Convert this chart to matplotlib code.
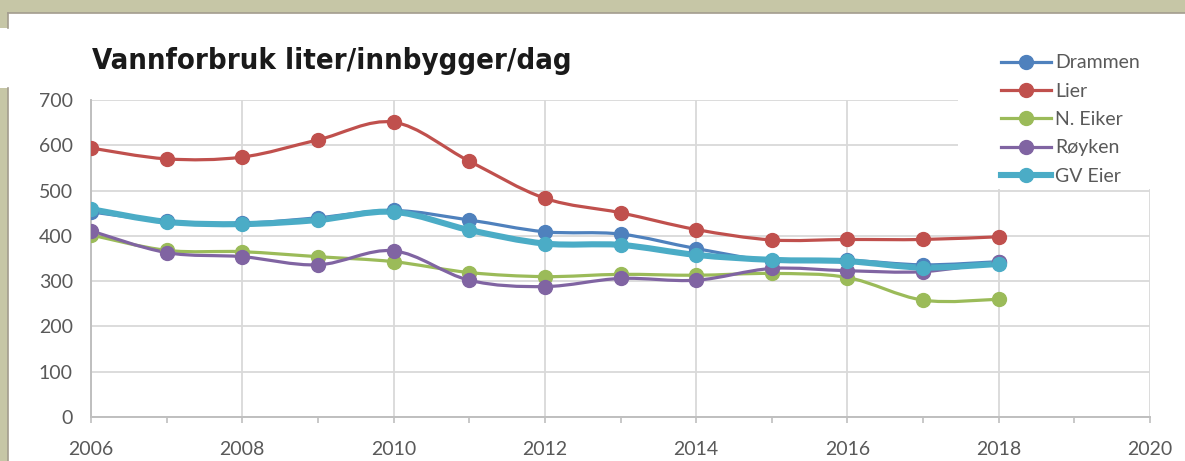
import matplotlib
matplotlib.use("Agg")
import matplotlib.pyplot as plt
from matplotlib.path import Path
from matplotlib.patches import PathPatch, Rectangle
from matplotlib.lines import Line2D
import numpy as np

years = [2006, 2007, 2008, 2009, 2010, 2011, 2012, 2013, 2014, 2015, 2016, 2017, 2018]

drammen = [453, 432, 428, 440, 456, 435, 409, 404, 372, 345, 346, 336, 343]
lier = [594, 570, 574, 612, 651, 565, 483, 451, 414, 391, 392, 392, 398]
n_eiker = [402, 368, 365, 354, 343, 319, 310, 315, 313, 317, 308, 258, 260]
royken = [411, 363, 354, 336, 367, 302, 288, 306, 302, 328, 323, 321, 343]
gv_eier = [459, 431, 426, 435, 453, 413, 383, 380, 358, 347, 344, 330, 338]

names = ["Drammen", "Lier", "N. Eiker", "Røyken", "GV Eier"]
series = [drammen, lier, n_eiker, royken, gv_eier]
colors = ["#4F81BD", "#C0504D", "#9BBB59", "#8064A2", "#4BACC6"]
widths = [2.3, 2.3, 2.3, 2.3, 4.4]

txt = "#595959"
font = "Lato"
fs = 14


def smooth_path(x, y):
    # excel style smoothed line: cubic bezier through the points
    x = np.asarray(x, float)
    y = np.asarray(y, float)
    n = len(x)
    verts = [(x[0], y[0])]
    codes = [Path.MOVETO]
    for i in range(n - 1):
        i0 = max(i - 1, 0)
        i3 = min(i + 2, n - 1)
        c1 = (x[i] + (x[i + 1] - x[i0]) / 6, y[i] + (y[i + 1] - y[i0]) / 6)
        c2 = (x[i + 1] - (x[i3] - x[i]) / 6, y[i + 1] - (y[i3] - y[i]) / 6)
        verts += [c1, c2, (x[i + 1], y[i + 1])]
        codes += [Path.CURVE4] * 3
    return Path(verts, codes)


fig = plt.figure(figsize=(11.85, 4.61), dpi=100)
W, H = 1185, 461

ax = fig.add_axes([91 / W, 1 - 417 / H, (1150 - 91) / W, (417 - 100) / H])

for vals, c, lw in zip(series, colors, widths):
    ax.add_patch(PathPatch(smooth_path(years, vals), fill=False, edgecolor=c,
                           lw=lw, capstyle="round", joinstyle="round", zorder=3))
    ax.plot(years, vals, "o", color=c, ms=10, zorder=4)

ax.set_xlim(2006, 2020)
ax.set_ylim(0, 700)
ax.set_xticks(range(2006, 2021, 2))
ax.set_xticks(range(2006, 2021), minor=True)
ax.set_yticks(range(0, 701, 100))
ax.grid(True, color="#d9d9d9", lw=1.3)
ax.set_axisbelow(True)
for s in ["top", "right"]:
    ax.spines[s].set_visible(False)
for s in ["left", "bottom"]:
    ax.spines[s].set_color("#bfbfbf")
    ax.spines[s].set_linewidth(1.4)
ax.tick_params(axis="x", which="both", direction="out", length=4, color="#bfbfbf",
               width=1.2, pad=13, labelsize=fs, labelcolor=txt)
ax.tick_params(axis="y", length=0, pad=13, labelsize=fs, labelcolor=txt)
for lab in ax.get_xticklabels() + ax.get_yticklabels():
    lab.set_fontfamily(font)

# frame around the panel
beige = "#c6c6a6"
edge = "#a39c8e"
fig.patches.append(Rectangle((0, 1 - 13 / H), 1, 13 / H, transform=fig.transFigure,
                             facecolor=beige, edgecolor="none", zorder=5))
fig.patches.append(Rectangle((0, 0), 8 / W, 1 - 88 / H, transform=fig.transFigure,
                             facecolor=beige, edgecolor="none", zorder=5))
fig.patches.append(Rectangle((0, 1 - 28 / H), 8 / W, 15 / H, transform=fig.transFigure,
                             facecolor=beige, edgecolor="none", zorder=5))
fig.add_artist(Line2D([8 / W, 1], [1 - 13.5 / H, 1 - 13.5 / H], transform=fig.transFigure,
                      color=edge, lw=1.2, zorder=6))
fig.add_artist(Line2D([8 / W, 8 / W], [0, 1 - 88 / H], transform=fig.transFigure,
                      color=edge, lw=1.2, zorder=6))
fig.add_artist(Line2D([8 / W, 8 / W], [1 - 28 / H, 1 - 13.5 / H], transform=fig.transFigure,
                      color=edge, lw=1.2, zorder=6))

# white area behind the legend
fig.patches.append(Rectangle((958 / W, 1 - 189 / H), 1 - 958 / W, (189 - 15) / H,
                             transform=fig.transFigure, facecolor="white",
                             edgecolor="none", zorder=2))

handles = [Line2D([], [], color=c, lw=lw, marker="o", ms=10) for c, lw in zip(colors, widths)]
leg = fig.legend(handles, names, loc="upper left", bbox_to_anchor=(983 / W, 1 - 37 / H),
                 frameon=False, handlelength=2.6, handletextpad=0.2, labelspacing=0.58,
                 prop={"family": font, "size": fs})
for t in leg.get_texts():
    t.set_color(txt)
leg.set_zorder(7)

fig.text(92 / W, 1 - 61 / H, "Vannforbruk liter/innbygger/dag", ha="left", va="center",
         fontsize=21, fontweight="bold", fontfamily="DejaVu Sans", fontstretch="condensed",
         color="#1a1a1a")

fig.savefig("out.png", dpi=100, facecolor="white")
